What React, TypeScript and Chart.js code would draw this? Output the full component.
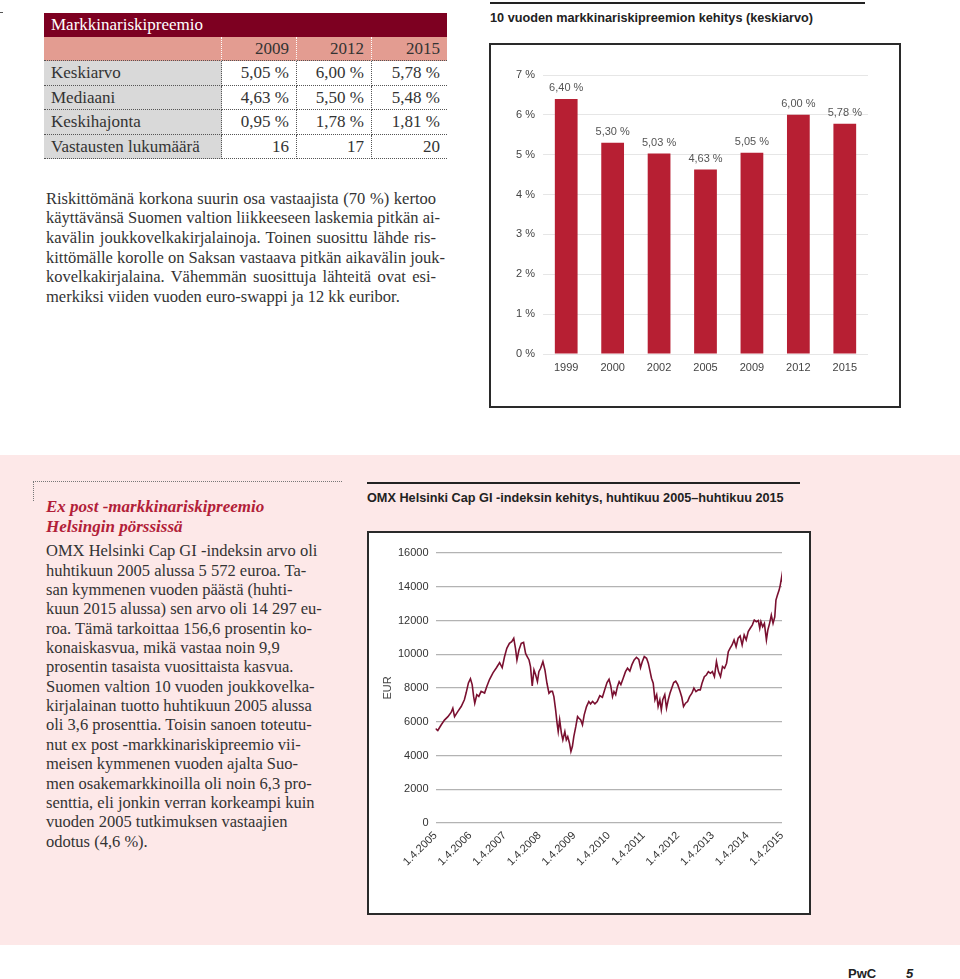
import React, { useEffect, useRef } from "react";
import { Chart, registerables } from "chart.js";

Chart.register(...registerables);

// ---------- DATA ----------
const tableTitle = "Markkinariskipreemio";
const tableYears = ["2009", "2012", "2015"];
const tableRowLabels = ["Keskiarvo", "Mediaani", "Keskihajonta", "Vastausten lukumäärä"];
const tableKeskiarvo = ["5,05 %", "6,00 %", "5,78 %"];
const tableMediaani = ["4,63 %", "5,50 %", "5,48 %"];
const tableKeskihajonta = ["0,95 %", "1,78 %", "1,81 %"];
const tableVastaukset = ["16", "17", "20"];

const barTitle = "10 vuoden markkinariskipreemion kehitys (keskiarvo)";
const barYears = ["1999", "2000", "2002", "2005", "2009", "2012", "2015"];
const barValues = [6.4, 5.3, 5.03, 4.63, 5.05, 6.0, 5.78];

const lineTitle = "OMX Helsinki Cap GI -indeksin kehitys, huhtikuu 2005–huhtikuu 2015";
const lineTickYears = [2005, 2006, 2007, 2008, 2009, 2010, 2011, 2012, 2013, 2014, 2015];
// months since 1.4.2005
const omxMonths = [
  0, 0.8, 2, 3.1, 4.3, 5.4, 6, 6.6, 7.7, 8.9,
  10, 10.6, 11.4, 12.1, 12.7, 13.2, 13.6, 14.3, 15, 15.8,
  17, 17.8, 18.7, 19.9, 21.1, 22.2, 23.1, 23.9, 24.7, 25.6,
  26.4, 27.1, 27.7, 28.2, 28.9, 29.7, 30.5, 31.2, 31.8, 32.4,
  32.9, 33.5, 34.1, 34.7, 35.3, 35.8, 36.4, 37.2, 37.9, 38.6,
  39.3, 39.9, 40.5, 41, 41.6, 42.1, 42.5, 43, 43.6, 44.1,
  44.8, 45.3, 45.8, 46.4, 46.9, 47.4, 47.9, 48.6, 49.2, 49.7,
  50.3, 50.9, 51.5, 52.3, 53.1, 53.7, 54.4, 55.2, 56, 56.9,
  57.8, 58.6, 59.4, 60.1, 60.7, 61.3, 61.8, 62.4, 63, 63.6,
  64.2, 65, 65.8, 66.5, 67.3, 68, 68.8, 69.6, 70.4, 71,
  71.6, 72.3, 73.1, 73.7, 74.2, 74.8, 75.4, 76, 76.6, 77.1,
  77.7, 78.2, 78.7, 79.4, 80, 80.6, 81.2, 81.8, 82.5, 83.2,
  83.9, 84.7, 85.3, 85.9, 86.6, 87.3, 88, 88.8, 89.5, 90.2,
  91, 91.7, 92.3, 93.1, 93.8, 94.5, 95.2, 95.9, 96.6, 97.3,
  98, 98.7, 99.4, 100.1, 100.8, 101.4, 102, 102.7, 103.4, 104.1,
  104.8, 105.5, 106.2, 106.9, 107.6, 108.3, 109, 109.7, 110.4, 111.1,
  111.8, 112.3, 112.7, 113.3, 113.9, 114.6, 115.1, 115.7, 116.3, 116.9,
  117.5, 117.9, 118.4, 119, 119.4, 119.9, 120,
];
const omxValues = [
  5600, 5480, 5820, 6100, 6300, 6550, 6800, 6300, 6600, 6900,
  7300, 7700, 8300, 8550, 8200, 7500, 7100, 7600, 7500, 7800,
  7700, 8100, 8500, 8900, 9200, 9500, 9200, 9850, 10350, 10650,
  10750, 10950, 10350, 9660, 10250, 10650, 10700, 10050, 9850, 9660,
  9270, 8120, 9070, 8770, 8380, 8970, 9170, 9560, 9070, 8280,
  7690, 7800, 7800, 7490, 6700, 5920, 5420, 6110, 5330, 4930,
  5420, 4930, 5120, 4730, 4240, 4530, 5120, 5720, 6310, 6210,
  6110, 5820, 6410, 6900, 7200, 7060, 7200, 7060, 7200, 7540,
  7450, 7890, 8320, 8520, 8120, 7490, 7790, 7600, 8080, 8380,
  8200, 8580, 8970, 9170, 9000, 9370, 9660, 9820, 9700, 9200,
  9560, 9860, 9760, 9470, 9070, 8580, 8280, 7300, 7600, 6900,
  7300, 6700, 7300, 7600, 6800, 7300, 7690, 7990, 8320, 8400,
  8200, 7790, 7450, 6900, 7100, 7200, 7490, 7690, 7990, 7790,
  7890, 7890, 8280, 8670, 8770, 8970, 8870, 8970, 8670, 9560,
  8970, 8670, 9270, 9170, 9470, 10150, 10350, 10550, 10850, 10450,
  10950, 11080, 10550, 11140, 10850, 11340, 11540, 11730, 12030, 11930,
  12000, 11540, 11930, 11630, 11830, 10850, 11440, 11830, 12320, 11830,
  12220, 13210, 13500, 13800, 14100, 14600, 14300,
];

const para1Lines = [
  "Riskittömänä korkona suurin osa vastaajista (70 %) kertoo",
  "käyttävänsä Suomen valtion liikkeeseen laskemia pitkän ai-",
  "kavälin joukkovelkakirjalainoja. Toinen suosittu lähde ris-",
  "kittömälle korolle on Saksan vastaava pitkän aikavälin jouk-",
  "kovelkakirjalaina. Vähemmän suosittuja lähteitä ovat esi-",
  "merkiksi viiden vuoden euro-swappi ja 12 kk euribor.",
];
const boxHeading = ["Ex post -markkinariskipreemio", "Helsingin pörssissä"];
const boxLines = [
  "OMX Helsinki Cap GI -indeksin arvo oli",
  "huhtikuun 2005 alussa 5 572 euroa. Ta-",
  "san kymmenen vuoden päästä (huhti-",
  "kuun 2015 alussa) sen arvo oli 14 297 eu-",
  "roa. Tämä tarkoittaa 156,6 prosentin ko-",
  "konaiskasvua, mikä vastaa noin 9,9",
  "prosentin tasaista vuosittaista kasvua.",
  "Suomen valtion 10 vuoden joukkovelka-",
  "kirjalainan tuotto huhtikuun 2005 alussa",
  "oli 3,6 prosenttia. Toisin sanoen toteutu-",
  "nut ex post -markkinariskipreemio vii-",
  "meisen kymmenen vuoden ajalta Suo-",
  "men osakemarkkinoilla oli noin 6,3 pro-",
  "senttia, eli jonkin verran korkeampi kuin",
  "vuoden 2005 tutkimuksen vastaajien",
  "odotus (4,6 %).",
];

// ---------- STYLE ----------
const SERIF = '"Liberation Serif", "Times New Roman", serif';
const SANS = '"Liberation Sans", Arial, sans-serif';
const BAR_RED = "#b71f33";
const LINE_RED = "#7a1030";
const PINK = "#fde8e8";

const fmtPct = (v: number) => v.toFixed(2).replace(".", ",") + " %";

function BarChart() {
  const ref = useRef<HTMLCanvasElement>(null);
  useEffect(() => {
    if (!ref.current) return;
    const labelPlugin = {
      id: "barLabels",
      afterDatasetsDraw(chart: any) {
        const ctx = chart.ctx;
        const meta = chart.getDatasetMeta(0);
        ctx.save();
        ctx.font = `11px ${SANS}`;
        ctx.fillStyle = "#555";
        ctx.textAlign = "center";
        ctx.textBaseline = "bottom";
        meta.data.forEach((el: any, i: number) => {
          ctx.fillText(fmtPct(barValues[i]), el.x, el.y - 5);
        });
        ctx.restore();
      },
    };
    const chart = new Chart(ref.current, {
      type: "bar",
      data: {
        labels: barYears,
        datasets: [
          {
            data: barValues,
            backgroundColor: BAR_RED,
            barPercentage: 0.49,
            categoryPercentage: 1,
          },
        ],
      },
      options: {
        animation: false,
        responsive: false,
        layout: { padding: { top: 30, right: 31, left: 0, bottom: 0 } },
        plugins: { legend: { display: false }, tooltip: { enabled: false } },
        scales: {
          x: {
            grid: { display: false, drawTicks: false },
            border: { display: false },
            ticks: { color: "#444", font: { family: SANS, size: 11 }, padding: 7 },
            afterFit: (s: any) => {
              s.height = 52;
            },
          },
          y: {
            min: 0,
            max: 7,
            grid: { color: "#e6e6e6", drawTicks: false },
            border: { display: false },
            ticks: {
              stepSize: 1,
              color: "#444",
              font: { family: SANS, size: 11 },
              padding: 8,
              callback: (v: any) => v + " %",
            },
            afterFit: (s: any) => {
              s.width = 52;
            },
          },
        },
      },
      plugins: [labelPlugin],
    } as any);
    return () => chart.destroy();
  }, []);
  return <canvas ref={ref} width={408} height={361} style={{ display: "block" }} />;
}

function LineChart() {
  const ref = useRef<HTMLCanvasElement>(null);
  useEffect(() => {
    if (!ref.current) return;
    const points = omxMonths.map((m, i) => ({ x: m, y: omxValues[i] }));
    const chart = new Chart(ref.current, {
      type: "line",
      data: {
        datasets: [
          {
            data: points,
            borderColor: LINE_RED,
            borderWidth: 1.6,
            pointRadius: 0,
            tension: 0,
            fill: false,
          },
        ],
      },
      options: {
        animation: false,
        responsive: false,
        layout: { padding: { top: 20, right: 27, left: 8, bottom: 0 } },
        plugins: { legend: { display: false }, tooltip: { enabled: false } },
        scales: {
          x: {
            type: "linear",
            min: 0,
            max: 120,
            grid: { display: false, drawTicks: false },
            border: { display: false },
            ticks: {
              stepSize: 12,
              autoSkip: false,
              maxRotation: 45,
              minRotation: 45,
              color: "#333",
              font: { family: SANS, size: 11 },
              padding: 6,
              callback: (v: any) => {
                const idx = Math.round(Number(v) / 12);
                return "1.4." + lineTickYears[idx];
              },
            },
            afterFit: (s: any) => {
              s.height = 70;
            },
          },
          y: {
            min: 0,
            max: 16000,
            grid: { color: "#b3b3b3", drawTicks: false, lineWidth: 1.2 },
            border: { display: false },
            ticks: {
              stepSize: 2000,
              color: "#333",
              font: { family: SANS, size: 11 },
              padding: 7,
              callback: (v: any) => String(v),
            },
            title: {
              display: true,
              text: "EUR",
              color: "#444",
              font: { family: SANS, size: 11 },
              padding: { top: 4, bottom: 4 },
            },
            afterFit: (s: any) => {
              s.width = 58.5;
            },
          },
        },
      },
    } as any);
    return () => chart.destroy();
  }, []);
  return <canvas ref={ref} width={440} height={360} style={{ display: "block" }} />;
}

const abs = (l: number, t: number, w?: number, h?: number): React.CSSProperties => ({
  position: "absolute",
  left: l,
  top: t,
  width: w,
  height: h,
});

function Table() {
  const edges = [44, 222, 297, 372, 447];
  const dataRows = [tableKeskiarvo, tableMediaani, tableKeskihajonta, tableVastaukset];
  const rowTops = [61, 85.5, 110, 134.5, 158.7];
  const cellText: React.CSSProperties = {
    fontFamily: SERIF,
    fontSize: 17,
    color: "#333",
    whiteSpace: "nowrap",
    boxSizing: "border-box",
  };
  return (
    <>
      <div
        style={{
          ...abs(44, 13, 403, 24),
          background: "#7d0021",
          color: "#fff",
          fontFamily: SERIF,
          fontSize: 17,
          lineHeight: "24px",
          paddingLeft: 7,
          boxSizing: "border-box",
        }}
      >
        {tableTitle}
      </div>
      {[0, 1, 2, 3].map((c) => (
        <div
          key={"y" + c}
          style={{
            ...abs(edges[c], 37, edges[c + 1] - edges[c], 24),
            ...cellText,
            background: "#e39c91",
            borderRight: c < 3 ? "1px dotted #fff" : undefined,
            borderBottom: "1px dotted #555",
            textAlign: "right",
            lineHeight: "24px",
            paddingRight: 7,
          }}
        >
          {c > 0 ? tableYears[c - 1] : ""}
        </div>
      ))}
      {tableRowLabels.map((lab, r) => {
        const top = rowTops[r];
        const h = rowTops[r + 1] - top;
        return (
          <React.Fragment key={"r" + r}>
            <div
              style={{
                ...abs(edges[0], top, edges[1] - edges[0], h),
                ...cellText,
                background: "#d9d9d9",
                borderRight: "1px dotted #555",
                borderBottom: "1px dotted #555",
                lineHeight: h + "px",
                paddingLeft: 7,
              }}
            >
              {lab}
            </div>
            {dataRows[r].map((v, c) => (
              <div
                key={c}
                style={{
                  ...abs(edges[c + 1], top, edges[c + 2] - edges[c + 1], h),
                  ...cellText,
                  background: "#fff",
                  borderRight: c < 2 ? "1px dotted #555" : undefined,
                  borderBottom: "1px dotted #555",
                  lineHeight: h + "px",
                  textAlign: "right",
                  paddingRight: 7,
                }}
              >
                {v}
              </div>
            ))}
          </React.Fragment>
        );
      })}
    </>
  );
}

export default function App() {
  return (
    <div
      style={{
        position: "absolute",
        left: 0,
        top: 0,
        width: 960,
        height: 979,
        background: "#fff",
        overflow: "hidden",
      }}
    >
      {/* tiny corner mark */}
      <div style={{ ...abs(0, 12, 3, 1), background: "#555" }} />

      <Table />

      {/* paragraph 1 */}
      {para1Lines.map((t, i) => (
        <div
          key={"p" + i}
          style={{
            ...abs(46, 188.5 + i * 19.7, 390, 19.7),
            fontFamily: SERIF,
            fontSize: 16.5,
            lineHeight: "19.7px",
            color: "#333",
            whiteSpace: "nowrap",
            textAlign: i < para1Lines.length - 1 ? "justify" : "left",
            textAlignLast: i < para1Lines.length - 1 ? "justify" : "left",
          }}
        >
          {t}
        </div>
      ))}

      {/* bar chart block */}
      <div style={{ ...abs(490, 2, 375, 2), background: "#222" }} />
      <div
        style={{
          ...abs(490, 10),
          fontFamily: SANS,
          fontWeight: "bold",
          fontSize: 12.7,
          lineHeight: "17px",
          color: "#222",
          whiteSpace: "nowrap",
        }}
      >
        {barTitle}
      </div>
      <div
        style={{
          ...abs(489, 43, 412, 365),
          border: "2px solid #2a2a2a",
          boxSizing: "border-box",
          background: "#fff",
        }}
      >
        <BarChart />
      </div>

      {/* pink section */}
      <div style={{ ...abs(0, 455, 960, 490), background: PINK }} />
      <div style={{ ...abs(33, 481, 309, 0), borderTop: "1px dotted #777" }} />
      <div style={{ ...abs(33, 481, 0, 20), borderLeft: "1px dotted #777" }} />

      {boxHeading.map((t, i) => (
        <div
          key={"h" + i}
          style={{
            ...abs(46, 497 + i * 20, 300, 20),
            fontFamily: SERIF,
            fontStyle: "italic",
            fontWeight: "bold",
            fontSize: 17,
            lineHeight: "20px",
            color: "#b22038",
            whiteSpace: "nowrap",
          }}
        >
          {t}
        </div>
      ))}
      {boxLines.map((t, i) => (
        <div
          key={"b" + i}
          style={{
            ...abs(46, 541.3 + i * 19.35, 290, 19.35),
            fontFamily: SERIF,
            fontSize: 16.5,
            lineHeight: "19.35px",
            color: "#333",
            whiteSpace: "nowrap",
          }}
        >
          {t}
        </div>
      ))}

      {/* line chart block */}
      <div style={{ ...abs(367, 482, 433, 2), background: "#222" }} />
      <div
        style={{
          ...abs(367, 490),
          fontFamily: SANS,
          fontWeight: "bold",
          fontSize: 12.7,
          lineHeight: "17px",
          color: "#222",
          whiteSpace: "nowrap",
        }}
      >
        {lineTitle}
      </div>
      <div
        style={{
          ...abs(367, 531, 444, 384),
          border: "2px solid #2a2a2a",
          boxSizing: "border-box",
          background: "#fff",
        }}
      >
        <LineChart />
      </div>

      {/* footer */}
      <div
        style={{
          ...abs(848, 966),
          fontFamily: SANS,
          fontWeight: "bold",
          fontSize: 13,
          lineHeight: "16px",
          color: "#222",
        }}
      >
        PwC
      </div>
      <div
        style={{
          ...abs(906, 966),
          fontFamily: SANS,
          fontWeight: "bold",
          fontStyle: "italic",
          fontSize: 13,
          lineHeight: "16px",
          color: "#222",
        }}
      >
        5
      </div>
    </div>
  );
}
